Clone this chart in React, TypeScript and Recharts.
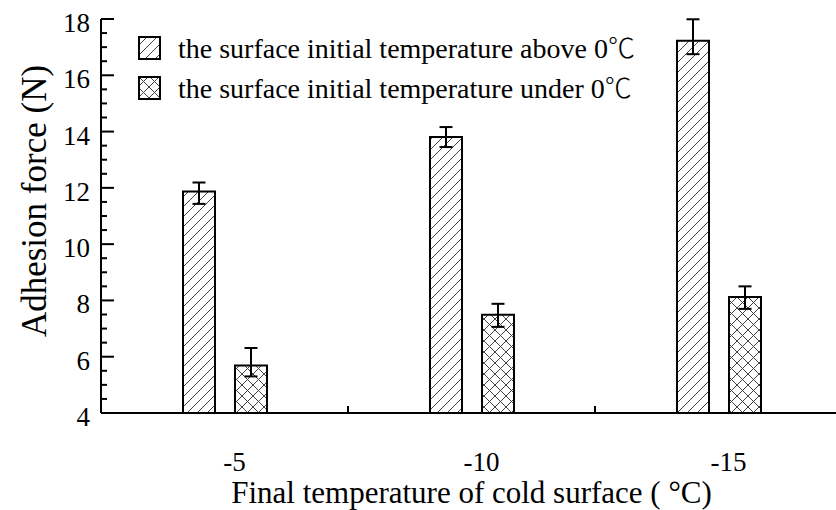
import React from 'react';
import { BarChart, Bar, XAxis, YAxis, ErrorBar, Legend } from 'recharts';

const categories = ['-5', '-10', '-15'];
const xPositions = [1, 2, 3];
const xBoundaryTicks = [1.5, 2.5];

const aboveValues = [11.87, 13.81, 17.23];
const aboveErrLow = [0.44, 0.36, 0.48];
const aboveErrHigh = [0.32, 0.35, 0.76];

const underValues = [5.69, 7.49, 8.12];
const underErrLow = [0.39, 0.43, 0.42];
const underErrHigh = [0.62, 0.39, 0.38];

const yMajorTicks = [4, 6, 8, 10, 12, 14, 16, 18];
const yAllTicks = [4, 4.5, 5, 5.5, 6, 6.5, 7, 7.5, 8, 8.5, 9, 9.5, 10, 10.5, 11, 11.5, 12, 12.5, 13, 13.5, 14, 14.5, 15, 15.5, 16, 16.5, 17, 17.5, 18];

const seriesNames = [
  'the surface initial temperature above 0',
  'the surface initial temperature under 0',
];
const unitSymbol = '\u2103';

const FONT = '"Liberation Serif", "Times New Roman", serif';
const CJK = '"Noto Sans CJK SC", "Liberation Serif", serif';

const data = categories.map((c, i) => ({
  x: xPositions[i],
  label: c,
  above: aboveValues[i],
  aboveErr: [aboveErrLow[i], aboveErrHigh[i]],
  under: underValues[i],
  underErr: [underErrLow[i], underErrHigh[i]],
}));

const HatchDefs = ({ prefix }: { prefix: string }) => (
  <defs>
    <pattern id={`${prefix}hatch`} patternUnits="userSpaceOnUse" width={10} height={10}>
      <rect width={10} height={10} fill="#fff" />
      <path d="M0,10 L10,0 M-2.5,2.5 L2.5,-2.5 M7.5,12.5 L12.5,7.5" stroke="#444" strokeWidth={1} />
    </pattern>
    <pattern id={`${prefix}cross`} patternUnits="userSpaceOnUse" width={11} height={11}>
      <rect width={11} height={11} fill="#fff" />
      <path d="M0,0 L11,11 M11,0 L0,11" stroke="#444" strokeWidth={1} />
    </pattern>
  </defs>
);

const YTick = (props: any) => {
  const { x, y, payload } = props;
  const v = payload.value;
  const major = yMajorTicks.includes(v);
  return (
    <g>
      <line x1={x} x2={x + (major ? 13 : 6)} y1={y} y2={y} stroke="#000" strokeWidth={2} />
      {major && (
        <text x={x - 11} y={y + 13} textAnchor="end" fontSize={27} fontFamily={FONT} fill="#000">
          {v}
        </text>
      )}
    </g>
  );
};

const XTick = (props: any) => {
  const { x, y, payload } = props;
  const v = payload.value;
  const idx = xPositions.indexOf(v);
  if (idx >= 0) {
    return (
      <text x={x + 10} y={y + 58} textAnchor="middle" fontSize={27} fontFamily={FONT} fill="#000">
        {categories[idx]}
      </text>
    );
  }
  return <line x1={x} x2={x} y1={y} y2={y - 7} stroke="#000" strokeWidth={2} />;
};

const LegendContent = () => (
  <div style={{ fontFamily: FONT, fontSize: 28, color: '#000', lineHeight: '40px' }}>
    {seriesNames.map((name, i) => (
      <div key={name} style={{ display: 'flex', alignItems: 'center', height: 40, whiteSpace: 'nowrap' }}>
        <svg width={24} height={24} style={{ marginRight: 16 }}>
          <HatchDefs prefix={`lg${i}`} />
          <rect x={1} y={1} width={21} height={22} fill={`url(#lg${i}${i === 0 ? 'hatch' : 'cross'})`} stroke="#000" strokeWidth={2} />
        </svg>
        <span>
          {name}
          <span style={{ fontFamily: CJK, fontWeight: 300, fontSize: 27 }}>{unitSymbol}</span>
        </span>
      </div>
    ))}
  </div>
);

export default function App() {
  return (
    <div style={{ position: 'absolute', left: 0, top: 0, width: 836, height: 510, overflow: 'hidden', background: '#fff' }}>
      <BarChart
        width={850}
        height={510}
        data={data}
        margin={{ top: 19, right: 8, bottom: 0, left: 0 }}
        barSize={32}
        barGap={20}
      >
        <HatchDefs prefix="c" />
        <XAxis
          dataKey="x"
          type="number"
          domain={[0.5, 3.5]}
          ticks={[...xPositions, ...xBoundaryTicks].sort()}
          interval={0}
          tickLine={false}
          tickSize={0}
          tickMargin={0}
          tick={XTick}
          axisLine={{ stroke: '#000', strokeWidth: 2 }}
          height={97}
          label={{
            value: 'Final temperature of cold surface ( \u00b0C)',
            position: 'insideBottom',
            offset: 7,
            style: { fontSize: 31, fontFamily: FONT, fill: '#000' },
          }}
        />
        <YAxis
          type="number"
          domain={[4, 18]}
          ticks={yAllTicks}
          interval={0}
          tickLine={false}
          tickSize={0}
          tickMargin={0}
          tick={YTick}
          axisLine={{ stroke: '#000', strokeWidth: 2 }}
          width={101}
          label={{
            value: 'Adhesion force (N)',
            angle: -90,
            position: 'center',
            dx: -17,
            dy: -15,
            style: { fontSize: 35, fontFamily: FONT, fill: '#000' },
          }}
        />
        <Legend
          layout="horizontal"
          verticalAlign="middle"
          align="center"
          content={LegendContent}
          wrapperStyle={{ position: 'absolute', left: 138, top: 28, width: 'auto' }}
        />
        <Bar dataKey="above" name={seriesNames[0] + unitSymbol} fill="url(#chatch)" stroke="#000" strokeWidth={2} isAnimationActive={false}>
          <ErrorBar dataKey="aboveErr" width={6.5} stroke="#000" strokeWidth={2} direction="y" />
        </Bar>
        <Bar dataKey="under" name={seriesNames[1] + unitSymbol} fill="url(#ccross)" stroke="#000" strokeWidth={2} isAnimationActive={false}>
          <ErrorBar dataKey="underErr" width={6.5} stroke="#000" strokeWidth={2} direction="y" />
        </Bar>
      </BarChart>
    </div>
  );
}
